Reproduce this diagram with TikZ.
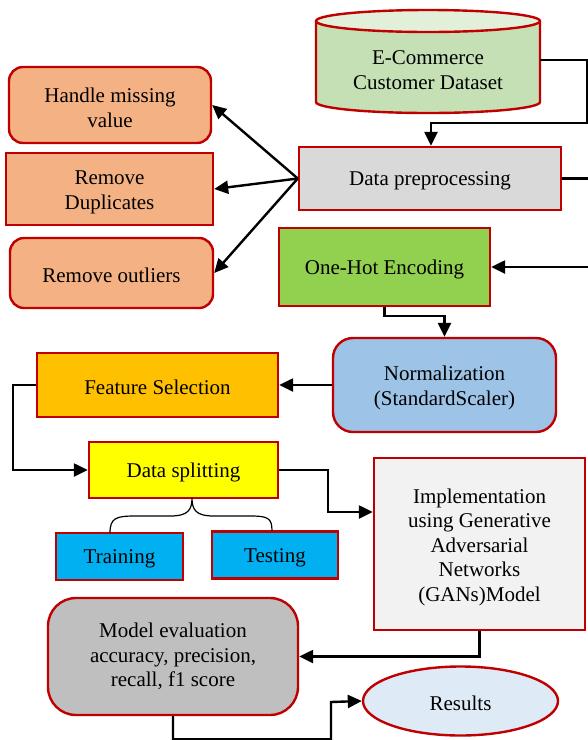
\documentclass[tikz,border=0pt]{standalone}
\usepackage{fontspec}
\setmainfont{Liberation Serif}
\usetikzlibrary{arrows.meta,calc,shapes.geometric}
\definecolor{bred}{HTML}{C00000}
\definecolor{dbbody}{HTML}{C5E0B4}
\definecolor{dbtop}{HTML}{E2F0D9}
\definecolor{pregray}{HTML}{D9D9D9}
\definecolor{cleanorange}{HTML}{F4B183}
\definecolor{ohgreen}{HTML}{92D050}
\definecolor{normblue}{HTML}{9DC3E6}
\definecolor{fsorange}{HTML}{FFC000}
\definecolor{dsyellow}{HTML}{FFFF00}
\definecolor{splitblue}{HTML}{00B0F0}
\definecolor{implgray}{HTML}{F2F2F2}
\definecolor{evalgray}{HTML}{BFBFBF}
\definecolor{respale}{HTML}{DEEBF7}
\newcommand{\txtfont}{\fontsize{21}{24.5}\selectfont}
% strut at the start of a first line, so the text sits a little low in its box
\newcommand{\lowline}{\rule{0pt}{20.5pt}}
\tikzset{
  box/.style={draw=bred, line width=2.4pt, align=center, inner sep=0pt, font=\txtfont, text=black,
    execute at begin node={\rule{0pt}{19.5pt}}},
  flow/.style={draw=black, line width=2.4pt, -{Triangle[length=14pt,width=13pt]}},
  brace/.style={draw=black, line width=1.2pt}
}
\begin{document}
\begin{tikzpicture}[x=1pt,y=-1pt]
\useasboundingbox (0,0) rectangle (588,740);

% database cylinder
\fill[dbbody] (316,21) -- (316,102) arc[start angle=180,end angle=0,x radius=112,y radius=11] -- (540,21) -- cycle;
\draw[bred, line width=2.4pt] (316,21) -- (316,102) arc[start angle=180,end angle=0,x radius=112,y radius=11] -- (540,21);
\draw[bred, line width=2.4pt, fill=dbtop] (428,21) ellipse[x radius=112, y radius=11];
\node[inner sep=0pt, minimum width=224pt, minimum height=80pt] (db) at (428,60) {};
\node[font=\txtfont, align=center, inner sep=0pt] (dbtext) at (428,70) {E-Commerce\\Customer Dataset};

% processing steps
\node[box, fill=pregray, minimum width=262pt, minimum height=63pt] (pre) at (430,178.5) {Data preprocessing};
\node[box, fill=cleanorange, rounded corners=14pt, minimum width=202pt, minimum height=76pt] (hmv) at (110,105) {\lowline Handle missing\\value};
\node[box, fill=cleanorange, minimum width=207pt, minimum height=72pt] (rd) at (109.5,189) {\lowline Remove\\Duplicates};
\node[box, fill=cleanorange, rounded corners=14pt, minimum width=203pt, minimum height=70pt] (ro) at (111.5,273) {Remove outliers};
\node[box, fill=ohgreen, minimum width=211pt, minimum height=78pt] (oh) at (384.5,267) {One-Hot Encoding};
\node[box, fill=normblue, rounded corners=20pt, minimum width=223pt, minimum height=94pt] (norm) at (444.5,385) {\lowline Normalization\\(StandardScaler)};
\node[box, fill=fsorange, minimum width=241pt, minimum height=64pt] (fs) at (157.5,385) {Feature Selection};
\node[box, fill=dsyellow, minimum width=189pt, minimum height=56pt] (ds) at (183.5,470) {Data splitting};
\node[box, fill=splitblue, minimum width=127pt, minimum height=47pt] (train) at (119.5,556.5) {Training};
\node[box, fill=splitblue, minimum width=126pt, minimum height=47pt] (test) at (275,555) {Testing};
\node[box, fill=implgray, minimum width=211pt, minimum height=172pt] (impl) at (479.5,544) {\lowline Implementation\\using Generative\\Adversarial\\Networks\\(GANs)Model};
\node[box, fill=evalgray, rounded corners=28pt, minimum width=250pt, minimum height=117pt] (me) at (173,656.5) {Model evaluation\\accuracy, precision,\\recall, f1 score};
\node[box, fill=respale, ellipse, minimum width=195pt, minimum height=69pt] (res) at (460.5,701) {Results};

% connectors
\coordinate (t1) at (431,123);
\draw[flow] (db.east) -| (587,123) -- (t1) -- (t1 |- pre.north);
\draw[flow] (pre.west) -- (hmv.east);
\draw[flow] (pre.west) -- (rd.east);
\draw[flow] (pre.west) -- (ro.east);
\draw[flow] (pre.east) -- ++(31,0) |- (oh.east);
\draw[flow] (oh.south) -- ++(0,9) -| (norm.north);
\draw[flow] (norm.west) -- (fs.east);
\draw[flow] (fs.west) -- ++(-23,0) |- (ds.west);
\coordinate (j) at (328,512);
\draw[flow] (ds.east) -| (j) -- (j -| impl.west);
\draw[flow] (impl.south) |- (me.east);
\coordinate (r) at (331,702);
\draw[flow] (me.south) -- ++(0,23) -| (r) -- (res.west);

% brace between the split and its two parts
\coordinate (btip) at (192,498);
\coordinate (bl) at (110,533);
\coordinate (br) at (272,531);
\draw[brace] (bl) .. controls (110,518) and (116,516) .. (135,516) -- (170,516)
  .. controls (188,516) and (192,510) .. (btip)
  .. controls (192,510) and (196,516) .. (214,516) -- (250,516)
  .. controls (268,516) and (272,518) .. (br);
\end{tikzpicture}
\end{document}
